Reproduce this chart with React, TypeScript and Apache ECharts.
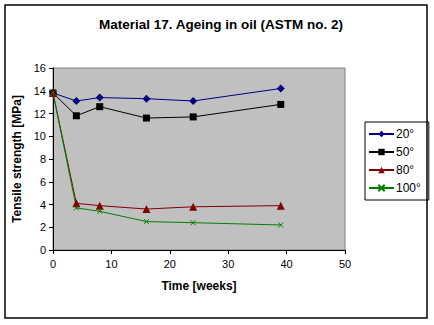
import React, { useEffect, useRef } from "react";
import * as echarts from "echarts";

const weeks = [0, 4, 8, 16, 24, 39];
const s20 = [13.8, 13.1, 13.4, 13.3, 13.1, 14.2];
const s50 = [13.8, 11.8, 12.6, 11.6, 11.7, 12.8];
const s80 = [13.8, 4.1, 3.9, 3.6, 3.8, 3.9];
const s100 = [13.8, 3.7, 3.4, 2.5, 2.4, 2.2];
const seriesNames = ["20°", "50°", "80°", "100°"];

const FONT = "Arial, 'Liberation Sans', sans-serif";

export default function App() {
  const ref = useRef<HTMLDivElement>(null);
  useEffect(() => {
    if (!ref.current) return;
    const chart = echarts.init(ref.current, null, { renderer: "svg" });
    const pair = (arr: number[]) => weeks.map((w, i) => [w, arr[i]]);
    const xPath = "path://M0,0L10,10M10,0L0,10";
    const mk = (name: string, data: number[], color: string, symbol: string, size: number, extra: any = {}) => ({
      name,
      type: "line",
      data: pair(data),
      symbol,
      symbolSize: size,
      lineStyle: { color, width: 1 },
      itemStyle: { color, ...extra },
      emphasis: { disabled: true },
    });
    chart.setOption({
      animation: false,
      backgroundColor: "#ffffff",
      title: {
        text: "Material 17. Ageing in oil (ASTM no. 2)",
        left: 216,
        textAlign: "center",
        top: 12,
        textStyle: { fontFamily: FONT, fontSize: 13.5, fontWeight: "bold", color: "#000" },
      },
      grid: {
        left: 53,
        right: 89,
        top: 68,
        bottom: 75,
        show: true,
        backgroundColor: "#c0c0c0",
        borderColor: "#808080",
        borderWidth: 1,
      },
      legend: {
        orient: "vertical",
        left: 365,
        top: 122,
        width: 58,
        padding: [6, 8, 6, 3],
        itemGap: 6,
        itemWidth: 25,
        itemHeight: 8,
        borderColor: "#000",
        borderWidth: 1,
        backgroundColor: "#fff",
        data: seriesNames,
        textStyle: { fontFamily: FONT, fontSize: 12, color: "#000", padding: [0, 0, 0, -3] },
      },
      xAxis: {
        type: "value",
        min: 0,
        max: 50,
        interval: 10,
        name: "Time [weeks]",
        nameLocation: "middle",
        nameGap: 30,
        nameTextStyle: { fontFamily: FONT, fontSize: 12, fontWeight: "bold", color: "#000" },
        axisLine: { lineStyle: { color: "#000", width: 1 } },
        axisTick: { show: true, length: 4, lineStyle: { color: "#000" } },
        axisLabel: { fontFamily: FONT, fontSize: 11, color: "#000", margin: 8 },
        splitLine: { show: false },
      },
      yAxis: {
        type: "value",
        min: 0,
        max: 16,
        interval: 2,
        name: "Tensile strength [MPa]",
        nameLocation: "middle",
        nameGap: 26,
        nameTextStyle: { fontFamily: FONT, fontSize: 12, fontWeight: "bold", color: "#000" },
        axisLine: { show: true, lineStyle: { color: "#000", width: 1 } },
        axisTick: { show: true, length: 4, lineStyle: { color: "#000" } },
        axisLabel: { fontFamily: FONT, fontSize: 11, color: "#000", margin: 7 },
        splitLine: { show: false },
      },
      series: [
        mk(seriesNames[0], s20, "#000080", "diamond", 8),
        mk(seriesNames[1], s50, "#000000", "rect", 7),
        mk(seriesNames[2], s80, "#800000", "triangle", 8),
        mk(seriesNames[3], s100, "#008000", xPath, 5, { borderColor: "#008000", borderWidth: 1 }),
      ],
      graphic: [
        {
          type: "rect",
          shape: { x: 5, y: 5, width: 422, height: 313 },
          style: { fill: "none", stroke: "#000", lineWidth: 1.5 },
          z: 100,
        },
      ],
    });
    return () => chart.dispose();
  }, []);
  return <div ref={ref} style={{ width: 434, height: 325, position: "absolute", left: 0, top: 0 }} />;
}
